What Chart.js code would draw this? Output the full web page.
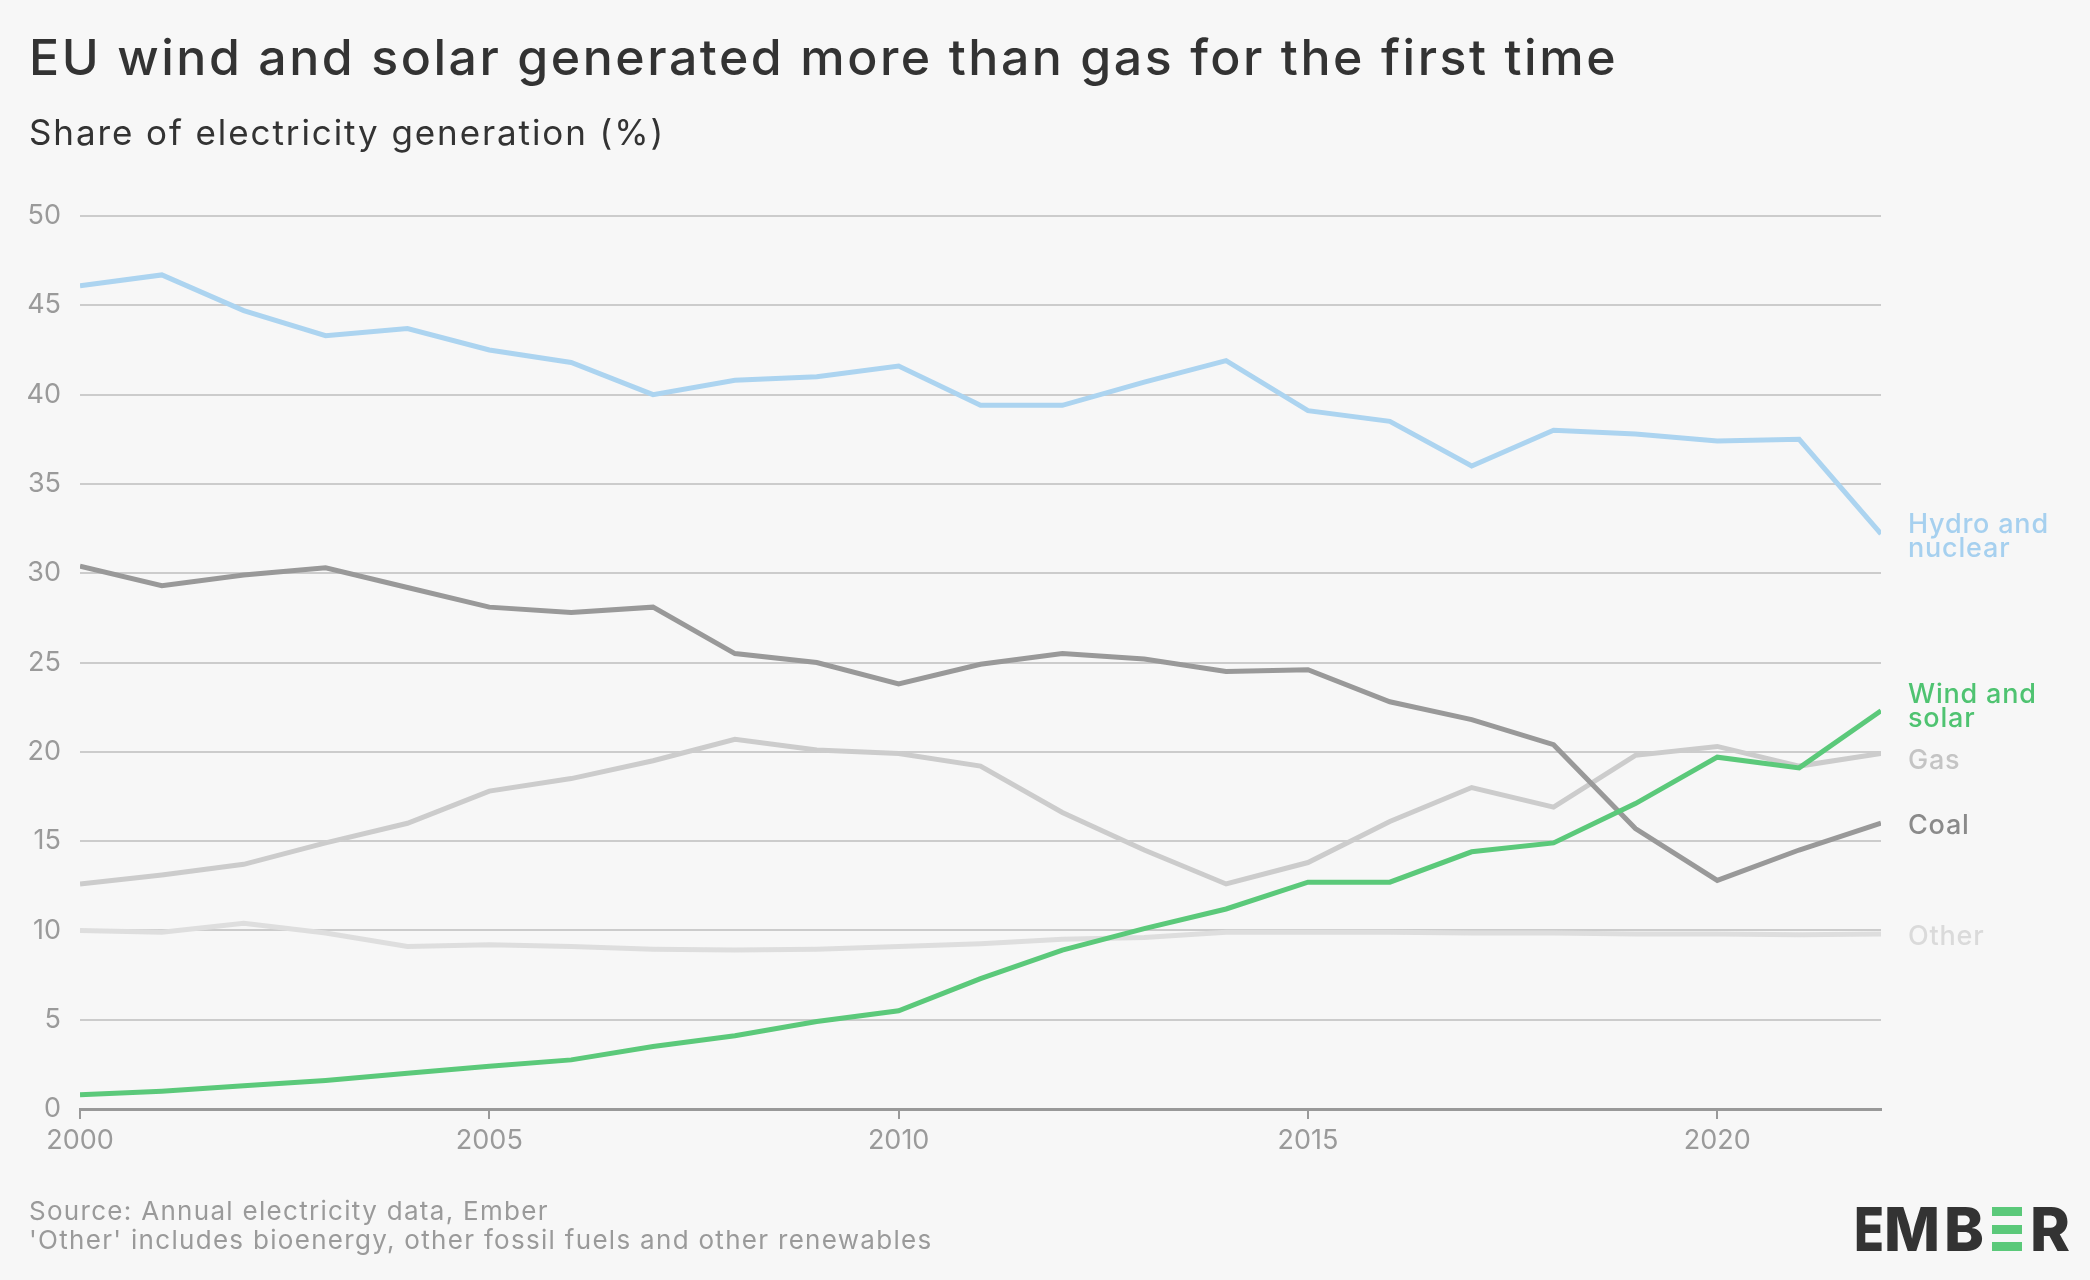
<!DOCTYPE html>
<html>
<head>
<meta charset="utf-8">
<script src="https://cdn.jsdelivr.net/npm/chart.js@4.4.0/dist/chart.umd.min.js"></script>
<style>
  html, body { margin: 0; padding: 0; background: #f7f7f7; }
  #wrap { position: relative; width: 2090px; height: 1280px; }
</style>
</head>
<body>
<div id="wrap"><canvas id="chart"></canvas></div>
<script>
// --- Data ---
const years = [2000, 2001, 2002, 2003, 2004, 2005, 2006, 2007, 2008, 2009, 2010,
  2011, 2012, 2013, 2014, 2015, 2016, 2017, 2018, 2019, 2020, 2021, 2022];
const hydroNuclear = [46.1, 46.7, 44.7, 43.3, 43.7, 42.5, 41.8, 40.0, 40.8, 41.0, 41.6,
  39.4, 39.4, 40.7, 41.9, 39.1, 38.5, 36.0, 38.0, 37.8, 37.4, 37.5, 32.2];
const coal = [30.4, 29.3, 29.9, 30.3, 29.2, 28.1, 27.8, 28.1, 25.5, 25.0, 23.8,
  24.9, 25.5, 25.2, 24.5, 24.6, 22.8, 21.8, 20.4, 15.7, 12.8, 14.5, 16.0];
const gas = [12.6, 13.1, 13.7, 14.9, 16.0, 17.8, 18.5, 19.5, 20.7, 20.1, 19.9,
  19.2, 16.6, 14.5, 12.6, 13.8, 16.1, 18.0, 16.9, 19.8, 20.3, 19.2, 19.9];
const other = [10.0, 9.9, 10.4, 9.85, 9.1, 9.2, 9.1, 8.95, 8.9, 8.95, 9.1,
  9.25, 9.5, 9.6, 9.9, 9.9, 9.9, 9.85, 9.85, 9.8, 9.8, 9.75, 9.8];
const windSolar = [0.8, 1.0, 1.3, 1.6, 2.0, 2.4, 2.75, 3.5, 4.1, 4.9, 5.5,
  7.3, 8.9, 10.1, 11.2, 12.7, 12.7, 14.4, 14.9, 17.1, 19.7, 19.1, 22.3];
const yTicks = [0, 5, 10, 15, 20, 25, 30, 35, 40, 45, 50];
const xTicks = [2000, 2005, 2010, 2015, 2020];

const FONT = 'Inter, "Noto Sans", sans-serif';

function pts(values) {
  return years.map((y, i) => ({ x: y, y: values[i] }));
}

// --- Series (first one drawn on top); nudge = label shift in px ---
const series = [
  { name: ['Wind and', 'solar'], data: windSolar, color: '#5bc97a', labelColor: '#4fc371', nudge: -4 },
  { name: ['Hydro and', 'nuclear'], data: hydroNuclear, color: '#acd4f0', labelColor: '#a6d0ef', nudge: 3 },
  { name: ['Coal'], data: coal, color: '#999999', labelColor: '#8a8a8a', nudge: 3 },
  { name: ['Gas'], data: gas, color: '#cccccc', labelColor: '#c4c4c4', nudge: 7 },
  { name: ['Other'], data: other, color: '#dedede', labelColor: '#dadada', nudge: 3 }
];

// --- Title, footer, logo and end labels ---
const decorPlugin = {
  id: 'decor',
  beforeDraw(chart) {
    const ctx = chart.ctx;
    ctx.save();
    ctx.fillStyle = '#f7f7f7';
    ctx.fillRect(0, 0, chart.width, chart.height);
    ctx.textAlign = 'left';
    ctx.textBaseline = 'alphabetic';
    ctx.fillStyle = '#333333';
    ctx.font = '500 50px ' + FONT;
    ctx.letterSpacing = '2.55px';
    ctx.fillText('EU wind and solar generated more than gas for the first time', 29, 75);
    ctx.font = '400 35px ' + FONT;
    ctx.letterSpacing = '1.9px';
    ctx.fillText('Share of electricity generation (%)', 29, 145);

    ctx.fillStyle = '#9a9a9a';
    ctx.font = '400 26px ' + FONT;
    ctx.letterSpacing = '1.3px';
    ctx.fillText('Source: Annual electricity data, Ember', 29, 1220);
    ctx.fillText("'Other' includes bioenergy, other fossil fuels and other renewables", 29, 1249);

    // logo
    ctx.letterSpacing = '0px';
    ctx.fillStyle = '#333333';
    ctx.font = '800 61px ' + FONT;
    const base = 1251;
    ctx.fillText('E', 1854, base, 30);
    ctx.fillText('M', 1884, base, 56);
    ctx.fillText('B', 1944, base, 40);
    ctx.fillText('R', 2030, base, 40);
    ctx.fillStyle = '#5bc97a';
    ctx.fillRect(1992, 1207, 30, 9);
    ctx.fillRect(1992, 1225, 30, 9);
    ctx.fillRect(1992, 1242, 30, 9);
    ctx.restore();
  },
  afterDatasetsDraw(chart) {
    const ctx = chart.ctx;
    const yScale = chart.scales.y;
    ctx.save();
    ctx.font = '500 27px ' + FONT;
    ctx.letterSpacing = '0.8px';
    ctx.textAlign = 'left';
    ctx.textBaseline = 'middle';
    const lh = 24;
    series.forEach(s => {
      const last = s.data[s.data.length - 1];
      const cy = yScale.getPixelForValue(last) + s.nudge;
      const top = cy - (s.name.length - 1) * lh / 2;
      ctx.fillStyle = s.labelColor;
      s.name.forEach((line, i) => ctx.fillText(line, 1908, top + i * lh));
    });
    ctx.restore();
  }
};

new Chart(document.getElementById('chart'), {
  type: 'line',
  data: {
    datasets: series.map(s => ({
      label: s.name.join(' '),
      data: pts(s.data),
      borderColor: s.color,
      borderWidth: 5,
      pointRadius: 0,
      tension: 0,
      fill: false
    }))
  },
  options: {
    responsive: true,
    maintainAspectRatio: false,
    animation: false,
    events: [],
    layout: { padding: { top: 216, right: 209, left: 0, bottom: 0 } },
    plugins: {
      legend: { display: false },
      tooltip: { enabled: false }
    },
    scales: {
      x: {
        type: 'linear',
        min: years[0],
        max: years[years.length - 1],
        afterFit: scale => { scale.height = 171; },
        afterBuildTicks: scale => { scale.ticks = xTicks.map(v => ({ value: v })); },
        ticks: {
          includeBounds: false,
          color: '#9a9a9a',
          font: { family: FONT, size: 27 },
          padding: 6,
          maxRotation: 0,
          callback: v => String(v)
        },
        grid: { drawOnChartArea: false, drawTicks: true, tickLength: 10, color: '#999999', lineWidth: 2 },
        border: { display: true, color: '#999999', width: 3 }
      },
      y: {
        min: 0,
        max: 50,
        afterFit: scale => { scale.width = 80; },
        afterBuildTicks: scale => { scale.ticks = yTicks.map(v => ({ value: v })); },
        ticks: {
          color: '#9a9a9a',
          font: { family: FONT, size: 27 },
          padding: 19
        },
        grid: { color: '#cccccc', lineWidth: 2, drawTicks: false },
        border: { display: false }
      }
    }
  },
  plugins: [decorPlugin]
});
</script>
</body>
</html>
